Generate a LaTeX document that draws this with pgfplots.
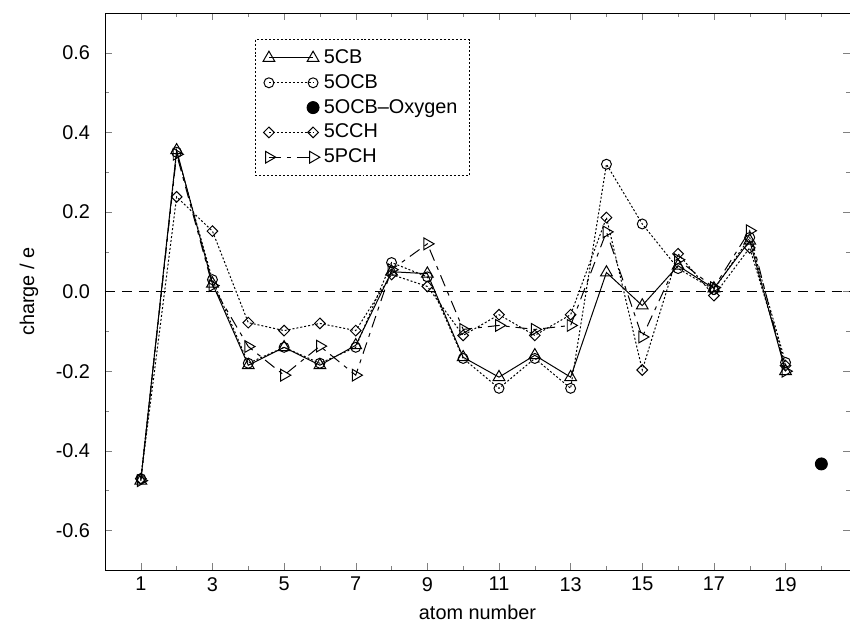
\documentclass[border=0pt]{standalone}
\usepackage{pgfplots}
\pgfplotsset{compat=1.18}
\usepackage{fontspec}
\setmainfont{Liberation Sans}
\pgfplotsset{
  twomark legend/.style={legend image code/.code={\draw[##1] plot coordinates {(0cm,0cm) (0.78cm,0cm)};}},
  onemark legend/.style={legend image code/.code={\draw[##1] plot coordinates {(0.78cm,0cm)};}},
}

\begin{document}
\begin{tikzpicture}
\begin{axis}[
  scale only axis,
  width=13.17cm, height=9.85cm,
  xmin=0, xmax=20.8, ymin=-0.7, ymax=0.7,
  xtick={1,3,5,7,9,11,13,15,17,19},
  minor xtick={2,4,6,8,10,12,14,16,18,20},
  ytick={-0.6,-0.4,-0.2,0,0.2,0.4,0.6},
  minor ytick={-0.7,-0.5,-0.3,-0.1,0.1,0.3,0.5,0.7},
  tick align=inside,
  major tick length=3.5pt, minor tick length=2pt,
  xlabel={atom number}, ylabel={charge / e},
  yticklabel shift=4pt, ylabel shift=2pt,
  font=\fontsize{10}{12}\selectfont,
  /pgf/number format/assume math mode=true,
  yticklabel style={/pgf/number format/.cd, fixed, fixed zerofill, precision=1},
  legend style={at={(0.201,0.953)}, anchor=north west, draw=black,
    dash pattern=on 1pt off 1pt, inner xsep=4pt, inner ysep=3pt,
    font=\fontsize{10}{12}\selectfont, row sep=0pt},
  legend cell align=left,
  twomark legend,
  every axis plot/.append style={line width=0.5pt},
]
% zero line
\addplot[black, dash pattern=on 5pt off 3.5pt, forget plot] coordinates {(0,0) (20.8,0)};

\addplot[black, solid, mark=triangle, mark size=3.4pt, mark options={solid}] coordinates {
(1,-0.475)(2,0.355)(3,0.02)(4,-0.185)(5,-0.14)(6,-0.185)(7,-0.135)(8,0.05)(9,0.045)(10,-0.165)
(11,-0.215)(12,-0.16)(13,-0.215)(14,0.048)(15,-0.035)(16,0.065)(17,0.008)(18,0.128)(19,-0.2)};
\addlegendentry{5CB}

\addplot[black, dash pattern=on 1pt off 1pt, mark=o, mark size=2.5pt, mark options={solid}] coordinates {
(1,-0.47)(2,0.35)(3,0.03)(4,-0.18)(5,-0.14)(6,-0.18)(7,-0.14)(8,0.073)(9,0.037)(10,-0.168)
(11,-0.243)(12,-0.168)(13,-0.243)(14,0.32)(15,0.17)(16,0.058)(17,0.005)(18,0.136)(19,-0.178)};
\addlegendentry{5OCB}

\addplot[black, only marks, mark=*, mark size=3pt, mark options={solid}, onemark legend]
  coordinates {(20,-0.433)};
\addlegendentry{5OCB--Oxygen}

\addplot[black, dash pattern=on 1pt off 1pt, mark=square, mark size=1.9pt, mark options={solid, rotate=45}] coordinates {
(1,-0.47)(2,0.238)(3,0.152)(4,-0.078)(5,-0.098)(6,-0.08)(7,-0.098)(8,0.043)(9,0.013)(10,-0.11)
(11,-0.058)(12,-0.11)(13,-0.058)(14,0.186)(15,-0.197)(16,0.095)(17,-0.01)(18,0.11)(19,-0.186)};
\addlegendentry{5CCH}

\addplot[black, dash pattern=on 6pt off 3pt on 2pt off 3pt, mark=triangle, mark size=3.4pt, mark options={solid, rotate=-90}] coordinates {
(1,-0.475)(2,0.345)(3,0.015)(4,-0.138)(5,-0.21)(6,-0.137)(7,-0.21)(8,0.055)(9,0.12)(10,-0.095)
(11,-0.085)(12,-0.095)(13,-0.085)(14,0.15)(15,-0.114)(16,0.08)(17,0.01)(18,0.153)(19,-0.2)};
\addlegendentry{5PCH}
\end{axis}
\pgfresetboundingbox
\path ([xshift=-1.856cm,yshift=-0.94cm]current axis.south west) rectangle ([yshift=0.23cm]current axis.north east);
\end{tikzpicture}
\end{document}
